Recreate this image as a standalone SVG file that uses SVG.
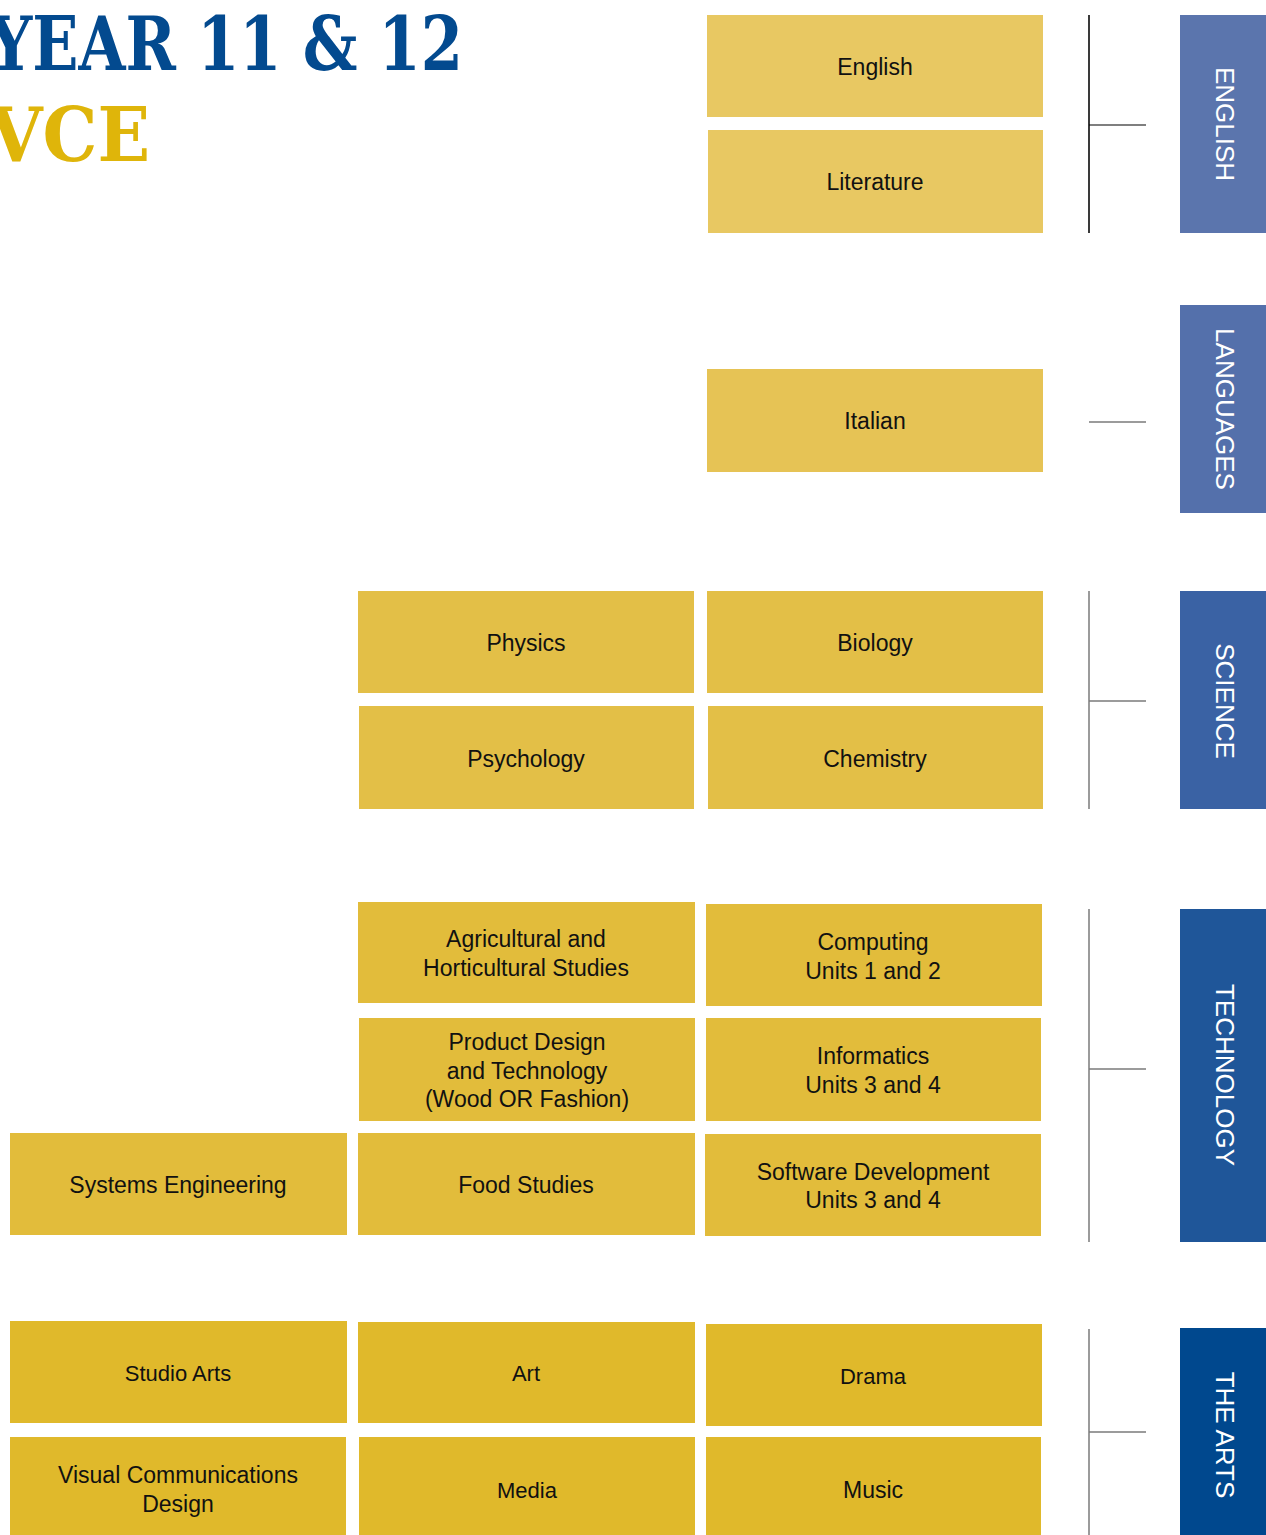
<svg xmlns="http://www.w3.org/2000/svg" width="1266" height="1535" viewBox="0 0 1266 1535">
<style>
.t{font-family:"Liberation Sans",Arial,sans-serif;font-size:23px;fill:#111;text-anchor:middle}
.s{font-size:22px}
.side{font-family:"Liberation Sans",Arial,sans-serif;font-size:26px;fill:#fff;text-anchor:middle}
.title{font-family:"DejaVu Serif","Liberation Serif",serif;font-weight:bold;font-size:74px}
.en{fill:#E8C862}.la{fill:#E6C355}.sc{fill:#E3BF47}.te{fill:#E2BC3B}.ar{fill:#E0B92B}
.ln{stroke:#7a7a7a;stroke-width:1.5;fill:none}
</style>
<rect width="1266" height="1535" fill="#fff"/>
<g id="title">
<text class="title" x="-11" y="70" fill="#034A8F" textLength="474" lengthAdjust="spacingAndGlyphs">YEAR 11 &amp; 12</text>
<text class="title" x="-11" y="161" fill="#DFB50A" textLength="161" lengthAdjust="spacingAndGlyphs">VCE</text>
</g>
<g id="connectors">
<line x1="1089" y1="15" x2="1089" y2="233" stroke="#3a3a3a" stroke-width="2"/>
<line x1="1089" y1="125" x2="1146" y2="125" stroke="#000" stroke-width="1.2"/>
<line class="ln" x1="1089" y1="422" x2="1146" y2="422"/>
<line class="ln" x1="1089" y1="591" x2="1089" y2="809"/>
<line class="ln" x1="1089" y1="701" x2="1146" y2="701"/>
<line class="ln" x1="1089" y1="909" x2="1089" y2="1242"/>
<line class="ln" x1="1089" y1="1069" x2="1146" y2="1069"/>
<line class="ln" x1="1089" y1="1329" x2="1089" y2="1535"/>
<line class="ln" x1="1089" y1="1432" x2="1146" y2="1432"/>
</g>
<g id="cat-english"><rect x="1180" y="15" width="86" height="218" fill="#5B75AD"/><text class="side" transform="translate(1216,124) rotate(90)">ENGLISH</text></g>
<g id="cat-languages"><rect x="1180" y="305" width="86" height="208" fill="#5470AB"/><text class="side" transform="translate(1216,409) rotate(90)">LANGUAGES</text></g>
<g id="cat-science"><rect x="1180" y="591" width="86" height="218" fill="#3A62A4"/><text class="side" transform="translate(1216,701) rotate(90)">SCIENCE</text></g>
<g id="cat-technology"><rect x="1180" y="909" width="86" height="333" fill="#1F5699"/><text class="side" transform="translate(1216,1075) rotate(90)">TECHNOLOGY</text></g>
<g id="cat-arts"><rect x="1180" y="1328" width="86" height="207" fill="#00488E"/><text class="side" transform="translate(1216,1435) rotate(90)">THE ARTS</text></g>

<g id="english"><rect class="en" x="707" y="15" width="336" height="102"/><text class="t" x="875" y="75">English</text></g>
<g id="literature"><rect class="en" x="708" y="130" width="335" height="103"/><text class="t" x="875" y="190">Literature</text></g>
<g id="italian"><rect class="la" x="707" y="369" width="336" height="103"/><text class="t" x="875" y="429">Italian</text></g>

<g id="physics"><rect class="sc" x="358" y="591" width="336" height="102"/><text class="t" x="526" y="651">Physics</text></g>
<g id="biology"><rect class="sc" x="707" y="591" width="336" height="102"/><text class="t" x="875" y="651">Biology</text></g>
<g id="psychology"><rect class="sc" x="359" y="706" width="335" height="103"/><text class="t" x="526" y="767">Psychology</text></g>
<g id="chemistry"><rect class="sc" x="708" y="706" width="335" height="103"/><text class="t" x="875" y="767">Chemistry</text></g>

<g id="agricultural"><rect class="te" x="358" y="902" width="337" height="101"/><text class="t" x="526" y="947">Agricultural and</text><text class="t" x="526" y="976">Horticultural Studies</text></g>
<g id="computing"><rect class="te" x="706" y="904" width="336" height="102"/><text class="t" x="873" y="950">Computing</text><text class="t" x="873" y="979">Units 1 and 2</text></g>
<g id="product-design"><rect class="te" x="359" y="1018" width="336" height="103"/><text class="t" x="527" y="1050">Product Design</text><text class="t" x="527" y="1079">and Technology</text><text class="t" x="527" y="1107">(Wood OR Fashion)</text></g>
<g id="informatics"><rect class="te" x="706" y="1018" width="335" height="103"/><text class="t" x="873" y="1064">Informatics</text><text class="t" x="873" y="1093">Units 3 and 4</text></g>
<g id="systems-engineering"><rect class="te" x="10" y="1133" width="337" height="102"/><text class="t" x="178" y="1193">Systems Engineering</text></g>
<g id="food-studies"><rect class="te" x="358" y="1133" width="337" height="102"/><text class="t" x="526" y="1193">Food Studies</text></g>
<g id="software-development"><rect class="te" x="705" y="1134" width="336" height="102"/><text class="t" x="873" y="1180">Software Development</text><text class="t" x="873" y="1208">Units 3 and 4</text></g>

<g id="studio-arts"><rect class="ar" x="10" y="1321" width="337" height="102"/><text class="t s" x="178" y="1381">Studio Arts</text></g>
<g id="art"><rect class="ar" x="358" y="1322" width="337" height="101"/><text class="t s" x="526" y="1381">Art</text></g>
<g id="drama"><rect class="ar" x="706" y="1324" width="336" height="102"/><text class="t s" x="873" y="1384">Drama</text></g>
<g id="visual-communications"><rect class="ar" x="10" y="1437" width="336" height="98"/><text class="t" x="178" y="1483">Visual Communications</text><text class="t" x="178" y="1512">Design</text></g>
<g id="media"><rect class="ar" x="359" y="1437" width="336" height="98"/><text class="t s" x="527" y="1498">Media</text></g>
<g id="music"><rect class="ar" x="706" y="1437" width="335" height="98"/><text class="t" x="873" y="1498">Music</text></g>
</svg>
